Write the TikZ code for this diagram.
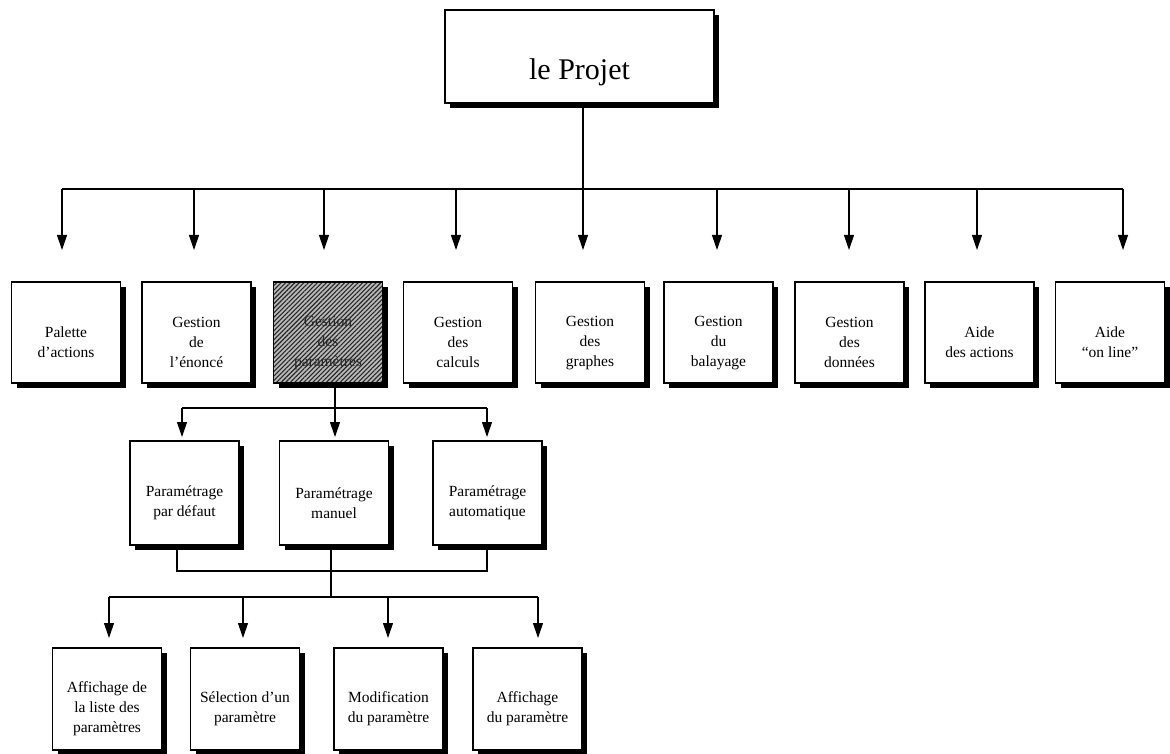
\documentclass[tikz,border=0pt]{standalone}
\usepackage{fontspec}
\setmainfont{Liberation Serif}
\usetikzlibrary{arrows.meta,shadows,patterns.meta}
\begin{document}
\begin{tikzpicture}[x=1pt,y=-1pt,
  box/.style={draw=black,line width=1.1pt,fill=white,minimum width=109pt,minimum height=101pt,
    inner sep=0pt,align=center,font=\fontsize{15.5}{20}\selectfont,
    drop shadow={shadow xshift=5pt,shadow yshift=-5pt,opacity=1,fill=black}},
  twolines/.style={text height=50.5pt},
  threelines/.style={text height=70.5pt},
  hatched/.style={preaction={fill=gray!55},pattern={Lines[angle=45,distance=3.2pt,line width=1.1pt]},pattern color=black!85,text=black!85},
  conn/.style={line width=1.1pt,draw=black},
  arr/.style={conn,-{Triangle[length=15pt,width=10pt]}}]
\useasboundingbox (0,0) rectangle (1170,754);

% top
\node[box,minimum width=269pt,minimum height=93pt,text height=52.5pt,font=\fontsize{30}{36}\selectfont] (proj) at (579.5,56.5) {le Projet};

% row 1
\node[box,twolines] (a1) at (66,332.5) {Palette\\d'actions};
\node[box,threelines] (a2) at (196.5,332.5) {Gestion\\de\\l'énoncé};
\node[box,threelines,hatched] (a3) at (328,332.5) {Gestion\\des\\paramètres};
\node[box,threelines] (a4) at (458,332.5) {Gestion\\des\\calculs};
\node[box,threelines] (a5) at (590,332.5) {Gestion\\des\\graphes};
\node[box,threelines] (a6) at (718.5,332.5) {Gestion\\du\\balayage};
\node[box,threelines] (a7) at (849.5,332.5) {Gestion\\des\\données};
\node[box,twolines] (a8) at (979.5,332.5) {Aide\\des actions};
\node[box,twolines] (a9) at (1110,332.5) {Aide\\``on line''};

% row 2
\node[box,twolines,minimum height=104pt] (b1) at (184.5,493) {Paramétrage\\par défaut};
\node[box,twolines,minimum height=104pt] (b2) at (334,493) {Paramétrage\\manuel};
\node[box,twolines,minimum height=104pt] (b3) at (487.5,493) {Paramétrage\\automatique};

% row 3
\node[box,threelines,minimum height=102pt] (c1) at (107,699) {Affichage de\\la liste des\\paramètres};
\node[box,twolines,minimum height=102pt] (c2) at (245,699) {Sélection d'un\\paramètre};
\node[box,twolines,minimum height=102pt] (c3) at (388.5,699) {Modification\\du paramètre};
\node[box,twolines,minimum height=102pt] (c4) at (527.5,699) {Affichage\\du paramètre};

% level 1 connectors
\foreach \i/\x in {1/62,2/194,3/324,4/456,5/583,6/717,7/849,8/977,9/1123}{
  \coordinate (j\i) at (\x,189);
  \coordinate (t\i) at (\x,250);
}
\draw[conn] (proj.south -| j5) -- (j5);
\draw[conn] (j1) -- (j9);
\foreach \i in {1,...,9}{\draw[arr] (j\i) -- (t\i);}

% level 2 connectors
\foreach \i/\x in {1/182,2/335,3/487}{
  \coordinate (k\i) at (\x,408);
  \coordinate (u\i) at (\x,437);
}
\draw[conn] (a3.south -| k2) -- (k2);
\draw[conn] (k1) -- (k3);
\foreach \i in {1,2,3}{\draw[arr] (k\i) -- (u\i);}

% merge
\coordinate (m1) at (177,571);
\coordinate (m2) at (331,571);
\coordinate (m3) at (487,571);
\draw[conn] (b1.south -| m1) -- (m1) -- (m3) -- (b3.south -| m3);
\foreach \i/\x in {1/109,2/243,3/388,4/538}{
  \coordinate (p\i) at (\x,597);
  \coordinate (v\i) at (\x,638);
}
\draw[conn] (b2.south -| m2) -- (m2 |- p1);
\draw[conn] (p1) -- (p4);
\foreach \i in {1,...,4}{\draw[arr] (p\i) -- (v\i);}
\end{tikzpicture}
\end{document}
